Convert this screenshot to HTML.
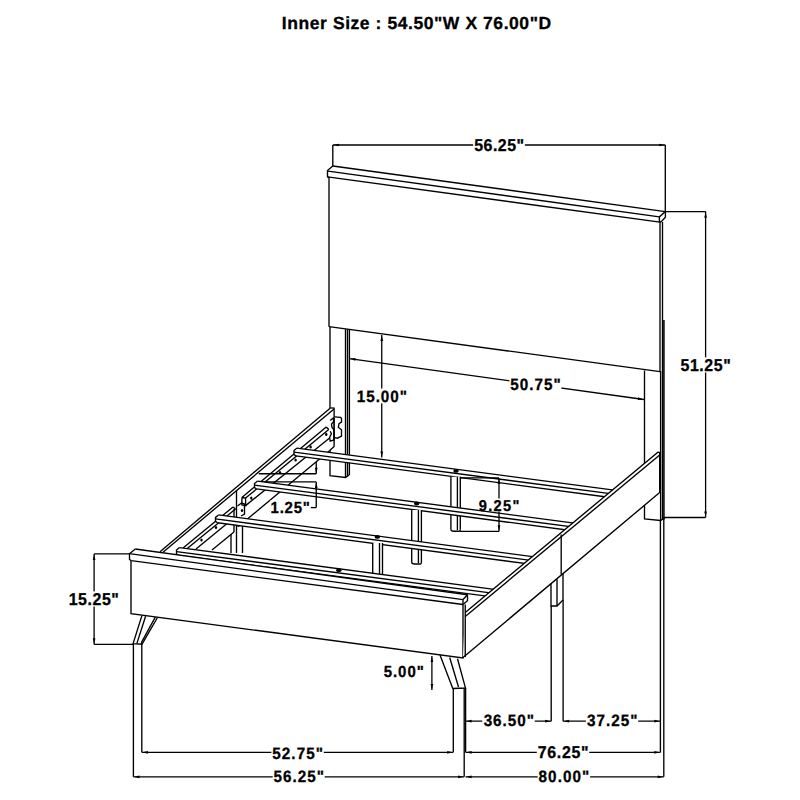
<!DOCTYPE html>
<html><head><meta charset="utf-8"><style>
html,body{margin:0;padding:0;background:#fff;width:800px;height:800px;overflow:hidden}
svg{display:block}
text{font-family:"Liberation Sans",sans-serif;font-weight:bold;fill:#000;stroke:#000;stroke-width:0.3;text-rendering:geometricPrecision}
</style></head><body>
<svg width="800" height="800" viewBox="0 0 800 800">
<g fill="none" stroke="#000" stroke-linejoin="miter" stroke-linecap="butt">
<path d="M332.80,166.00 L665.30,211.60" stroke-width="1.35"/>
<path d="M328.00,171.20 L659.40,216.90" stroke-width="1.35"/>
<path d="M327.50,176.90 L660.00,222.20" stroke-width="1.35"/>
<path d="M332.80,166.00 L327.50,170.60 L327.50,176.90 L329.00,177.50" stroke-width="1.35"/>
<path d="M665.30,211.60 L659.40,216.90 L659.40,222.20" stroke-width="1.35"/>
<path d="M665.40,211.60 L665.40,217.20 L661.20,221.60 L660.00,222.20" stroke-width="1.35"/>
<path d="M329.00,177.20 L329.00,326.80" stroke-width="1.35"/>
<path d="M329.00,326.60 L660.00,371.60" stroke-width="1.35"/>
<path d="M660.00,222.00 L660.00,371.50" stroke-width="1.35"/>
<path d="M662.50,222.00 L662.50,520.00" stroke-width="1.35"/>
<path d="M330.00,327.00 L330.00,475.60 L345.60,477.50 L349.40,474.40 L349.40,329.40" stroke-width="1.35"/>
<path d="M345.50,329.20 L345.50,477.00" stroke-width="1.35"/>
<path d="M347.50,329.40 L347.50,476.50" stroke-width="1.35"/>
<path d="M644.50,370.50 L644.50,519.00 L660.60,520.50 L664.70,517.60" stroke-width="1.35"/>
<path d="M660.60,371.00 L660.60,520.50" stroke-width="1.35"/>
<rect x="662.5" y="320" width="2.3" height="200" fill="#000" stroke="none" opacity="0.85"/>
<path d="M349.40,358.60 L644.00,399.50" stroke-width="1.3"/>
<path d="M349.99,358.68 L355.63,358.10 L355.26,360.78 Z" fill="#000" stroke="none"/>
<path d="M643.41,399.42 L637.77,400.00 L638.14,397.32 Z" fill="#000" stroke="none"/>
<rect x="509.40" y="377.00" width="52.00" height="14.80" fill="#fff" stroke="none"/>
<text class="dim" transform="translate(510.29,390.00) scale(0.93,1)" x="0" y="0" font-size="16.41" textLength="54.20" lengthAdjust="spacing">50.75"</text>
<path d="M381.75,335.00 L381.75,457.50" stroke-width="1.3"/>
<path d="M381.75,335.60 L383.10,341.10 L380.40,341.10 Z" fill="#000" stroke="none"/>
<path d="M381.75,456.90 L380.40,451.40 L383.10,451.40 Z" fill="#000" stroke="none"/>
<rect x="356.40" y="388.50" width="51.30" height="14.90" fill="#fff" stroke="none"/>
<text class="dim" transform="translate(356.78,401.75) scale(0.93,1)" x="0" y="0" font-size="16.41" textLength="53.94" lengthAdjust="spacing">15.00"</text>
<path d="M330.40,407.90 L334.10,408.20 L334.10,446.50 L329.50,450.80 L245.00,521.00 L160.00,551.80 Z" fill="#fff" stroke="none"/>
<path d="M330.40,407.90 L160.00,551.80" stroke-width="1.35"/>
<path d="M334.00,409.00 L163.00,552.20" stroke-width="1.35"/>
<path d="M330.40,407.90 L334.10,408.20 L334.10,446.50 L329.50,450.80" stroke-width="1.35"/>
<path d="M329.50,450.80 L245.00,521.00" stroke-width="1.35"/>
<path d="M326.25,426.90 L241.90,497.50" stroke-width="1.35"/>
<path d="M328.75,429.40 L245.60,498.10" stroke-width="1.35"/>
<path d="M329.60,438.00 L245.60,505.60" stroke-width="1.35"/>
<path d="M326.25,426.90 L328.75,429.40" stroke-width="1.35"/>
<path d="M241.90,497.50 L245.60,498.10 L245.60,505.60 L241.90,505.00 L241.90,497.50" stroke-width="1.35"/>
<path d="M236.50,490.00 L236.50,553.00" stroke-width="1.35"/>
<path d="M237.50,506.00 L241.50,503.00 L244.50,504.00 L244.50,514.00 L241.00,516.00" stroke-width="1.35"/>
<path d="M233.00,507.00 L183.00,548.00" stroke-width="1.35"/>
<path d="M235.50,509.00 L186.00,549.50" stroke-width="1.35"/>
<path d="M235.00,517.00 L196.00,549.00" stroke-width="1.35"/>
<path d="M233.00,507.00 L235.50,509.00" stroke-width="1.35"/>
<path d="M234.00,509.00 L234.00,532.00" stroke-width="1.35"/>
<path d="M234.00,532.00 L212.00,550.00" stroke-width="1.35"/>
<path d="M231.00,534.00 L231.00,553.00" stroke-width="1.35"/>
<path d="M242.50,524.00 L242.50,553.00" stroke-width="1.35"/>
<ellipse cx="326.25" cy="434.4" rx="1.2" ry="1.6" fill="#000" stroke="none"/>
<ellipse cx="310.6" cy="446.9" rx="1.2" ry="1.6" fill="#000" stroke="none"/>
<ellipse cx="295.6" cy="460" rx="1.2" ry="1.6" fill="#000" stroke="none"/>
<ellipse cx="280" cy="472.5" rx="1.2" ry="1.6" fill="#000" stroke="none"/>
<ellipse cx="251.25" cy="498.1" rx="1.2" ry="1.6" fill="#000" stroke="none"/>
<ellipse cx="242" cy="510.5" rx="1.2" ry="1.6" fill="#000" stroke="none"/>
<ellipse cx="216" cy="527.5" rx="1.2" ry="1.6" fill="#000" stroke="none"/>
<ellipse cx="201.5" cy="540" rx="1.2" ry="1.6" fill="#000" stroke="none"/>
<ellipse cx="238.5" cy="525.5" rx="1.2" ry="1.6" fill="#000" stroke="none"/>
<path d="M334.40,416.90 L341.25,418.00 L341.25,437.00 L334.40,438.00 Z" fill="#fff" stroke="none"/>
<path d="M334.40,416.90 L340.60,417.30 L341.50,418.50 L341.50,422.20 L339.00,423.60 L338.30,427.30 L341.50,429.80 L341.50,436.20 L337.50,438.20 L334.40,437.60" stroke-width="1.35"/>
<path d="M330.20,420.50 L333.10,418.20 L334.00,421.00 L331.50,424.20 L332.00,427.50 L334.00,429.80 L334.00,440.00 L330.20,441.20 L329.60,437.40 L331.40,433.80 L330.20,431.20" stroke-width="1.35"/>
<path d="M334.20,417.50 L334.20,440.00" stroke-width="1.35"/>
<path d="M258.75,473.75 L316.25,473.75" stroke-width="1.35"/>
<path d="M258.00,481.90 L316.25,481.90" stroke-width="1.35"/>
<path d="M294.00,449.05 L297.00,448.05 L616.00,490.42 L616.00,498.22 L296.00,455.85 L294.00,454.55 Z" fill="#fff" stroke="none"/>
<path d="M297.00,448.05 L616.00,490.42" stroke-width="1.35"/>
<path d="M294.00,452.05 L616.00,494.42" stroke-width="1.35"/>
<path d="M296.00,455.85 L616.00,498.22" stroke-width="1.35"/>
<path d="M297.00,448.05 L294.00,450.55 L294.00,454.55 L296.00,455.85" stroke-width="1.35"/>
<ellipse cx="456" cy="470.9" rx="2.7" ry="1.9" fill="#000" stroke="none"/>
<path d="M450.90,476.80 L460.30,476.80 L460.30,531.20 L450.90,531.20 Z" fill="#fff" stroke="none"/>
<path d="M450.90,476.80 L450.90,529.20" stroke-width="1.35"/>
<path d="M460.30,476.80 L460.30,529.20" stroke-width="1.35"/>
<path d="M457.40,476.80 L457.40,530.20" stroke-width="1.35"/>
<path d="M450.9,529.2 Q450.9,531.2 453.9,531.2 L459.3,531.2 Q460.3,531.2 460.3,529.2" stroke-width="1.35"/>
<path d="M254.50,482.09 L257.50,481.09 L578.00,523.66 L578.00,531.46 L256.50,488.89 L254.50,487.59 Z" fill="#fff" stroke="none"/>
<path d="M257.50,481.09 L578.00,523.66" stroke-width="1.35"/>
<path d="M254.50,485.09 L578.00,527.66" stroke-width="1.35"/>
<path d="M256.50,488.89 L578.00,531.46" stroke-width="1.35"/>
<path d="M257.50,481.09 L254.50,483.59 L254.50,487.59 L256.50,488.89" stroke-width="1.35"/>
<ellipse cx="416.7" cy="503.5" rx="2.7" ry="1.9" fill="#000" stroke="none"/>
<path d="M411.70,510.00 L421.40,510.00 L421.40,564.00 L411.70,564.00 Z" fill="#fff" stroke="none"/>
<path d="M411.70,510.00 L411.70,562.00" stroke-width="1.35"/>
<path d="M421.40,510.00 L421.40,562.00" stroke-width="1.35"/>
<path d="M418.40,510.00 L418.40,563.00" stroke-width="1.35"/>
<path d="M411.7,562 Q411.7,564 414.7,564 L420.4,564 Q421.4,564 421.4,562" stroke-width="1.35"/>
<path d="M215.50,515.94 L218.50,514.94 L540.00,557.64 L540.00,565.44 L217.50,522.74 L215.50,521.44 Z" fill="#fff" stroke="none"/>
<path d="M218.50,514.94 L540.00,557.64" stroke-width="1.35"/>
<path d="M215.50,518.94 L540.00,561.64" stroke-width="1.35"/>
<path d="M217.50,522.74 L540.00,565.44" stroke-width="1.35"/>
<path d="M218.50,514.94 L215.50,517.44 L215.50,521.44 L217.50,522.74" stroke-width="1.35"/>
<ellipse cx="377.3" cy="536.9" rx="2.7" ry="1.9" fill="#000" stroke="none"/>
<path d="M372.70,543.00 L382.50,543.00 L382.50,590.00 L372.70,590.00 Z" fill="#fff" stroke="none"/>
<path d="M372.70,543.00 L372.70,588.00" stroke-width="1.35"/>
<path d="M382.50,543.00 L382.50,588.00" stroke-width="1.35"/>
<path d="M379.50,543.00 L379.50,589.00" stroke-width="1.35"/>
<path d="M372.7,588 Q372.7,590 375.7,590 L381.5,590 Q382.5,590 382.5,588" stroke-width="1.35"/>
<path d="M176.50,548.59 L179.50,547.59 L496.00,589.63 L496.00,597.43 L178.50,555.39 L176.50,554.09 Z" fill="#fff" stroke="none"/>
<path d="M179.50,547.59 L496.00,589.63" stroke-width="1.35"/>
<path d="M176.50,551.59 L496.00,593.63" stroke-width="1.35"/>
<path d="M178.50,555.39 L496.00,597.43" stroke-width="1.35"/>
<path d="M179.50,547.59 L176.50,550.09 L176.50,554.09 L178.50,555.39" stroke-width="1.35"/>
<ellipse cx="338.8" cy="570.2" rx="2.7" ry="1.9" fill="#000" stroke="none"/>
<path d="M460.70,477.90 L499.00,477.90" stroke-width="1.35"/>
<path d="M459.60,531.40 L499.00,531.40" stroke-width="1.35"/>
<path d="M499.00,477.90 L499.00,531.40" stroke-width="1.3"/>
<path d="M499.00,478.50 L500.35,484.00 L497.65,484.00 Z" fill="#000" stroke="none"/>
<path d="M499.00,530.80 L497.65,525.30 L500.35,525.30 Z" fill="#000" stroke="none"/>
<rect x="496" y="498.5" width="6" height="13" fill="#fff" stroke="none"/>
<text class="dim" transform="translate(478.67,510.50) scale(0.93,1)" x="0" y="0" font-size="15.71" textLength="43.92" lengthAdjust="spacing">9.25"</text>
<path d="M316.25,462.00 L316.25,473.75" stroke-width="1.35"/>
<path d="M316.25,473.15 L314.90,467.65 L317.60,467.65 Z" fill="#000" stroke="none"/>
<path d="M316.25,481.90 L316.25,507.60" stroke-width="1.35"/>
<path d="M316.25,482.50 L317.60,488.00 L314.90,488.00 Z" fill="#000" stroke="none"/>
<path d="M316.25,507.60 L310.00,507.60" stroke-width="1.35"/>
<rect x="269.90" y="500.60" width="40.85" height="14.65" fill="#fff" stroke="none"/>
<text class="dim" transform="translate(270.54,513.35) scale(0.93,1)" x="0" y="0" font-size="16.07" textLength="42.35" lengthAdjust="spacing">1.25"</text>
<path d="M135.25,549.00 L467.50,594.75 L467.50,600.75 L463.00,604.50 L463.00,658.00 L131.00,613.60 L129.50,559.50 L129.50,553.70 Z" fill="#fff" stroke="none"/>
<path d="M135.25,549.00 L467.50,594.75" stroke-width="1.35"/>
<path d="M129.50,553.70 L463.00,599.60" stroke-width="1.35"/>
<path d="M131.20,560.60 L463.00,604.50" stroke-width="1.35"/>
<path d="M135.25,549.00 L129.50,553.70 L129.50,559.50 L131.20,560.60" stroke-width="1.35"/>
<path d="M467.50,594.75 L467.50,600.75 L463.00,604.50" stroke-width="1.35"/>
<path d="M467.50,594.75 L463.00,599.60 L463.00,604.50" stroke-width="1.35"/>
<path d="M131.00,561.00 L131.00,613.60 L463.00,658.00 L463.00,604.50" stroke-width="1.35"/>
<path d="M141.90,615.60 L133.10,643.60 L142.00,644.20 L157.50,617.50" stroke-width="1.35"/>
<path d="M145.60,616.20 L136.90,643.40" stroke-width="1.35"/>
<path d="M155.30,617.20 L141.20,642.80" stroke-width="1.35"/>
<path d="M440.00,655.00 L452.80,688.50 L465.50,688.00 L457.50,658.70" stroke-width="1.35"/>
<path d="M449.70,657.50 L458.50,687.00" stroke-width="1.35"/>
<path d="M465.25,612.40 L657.90,452.20 L659.70,452.60 L659.70,492.50 L463.00,657.50 L465.25,604.50 Z" fill="#fff" stroke="none"/>
<path d="M465.25,604.50 L465.25,657.00" stroke-width="1.35"/>
<path d="M465.25,612.40 L657.90,452.20 L659.70,452.60 L659.70,492.50 L463.00,657.50" stroke-width="1.35"/>
<path d="M465.25,616.50 L659.70,455.00" stroke-width="1.35"/>
<path d="M561.20,534.50 L561.20,574.50" stroke-width="1.35"/>
<path d="M551.00,583.80 L551.00,606.00 L557.00,606.00 L563.00,600.00" stroke-width="1.35"/>
<path d="M557.00,579.00 L557.00,606.00" stroke-width="1.35"/>
<path d="M563.00,573.80 L563.00,600.00" stroke-width="1.35"/>
<path d="M332.80,145.00 L332.80,166.00" stroke-width="1.35"/>
<path d="M665.30,145.00 L665.30,211.60" stroke-width="1.35"/>
<path d="M332.80,145.00 L665.30,145.00" stroke-width="1.3"/>
<path d="M333.40,145.00 L338.90,143.65 L338.90,146.35 Z" fill="#000" stroke="none"/>
<path d="M664.70,145.00 L659.20,146.35 L659.20,143.65 Z" fill="#000" stroke="none"/>
<rect x="473.10" y="137.00" width="51.80" height="15.25" fill="#fff" stroke="none"/>
<text class="dim" transform="translate(474.21,150.50) scale(0.93,1)" x="0" y="0" font-size="17.11" textLength="53.71" lengthAdjust="spacing">56.25"</text>
<path d="M665.30,211.60 L705.60,211.60" stroke-width="1.35"/>
<path d="M664.00,517.50 L705.60,517.50" stroke-width="1.35"/>
<path d="M705.60,211.60 L705.60,517.50" stroke-width="1.3"/>
<path d="M705.60,212.20 L706.95,217.70 L704.25,217.70 Z" fill="#000" stroke="none"/>
<path d="M705.60,516.90 L704.25,511.40 L706.95,511.40 Z" fill="#000" stroke="none"/>
<rect x="679.40" y="357.25" width="52.10" height="15.25" fill="#fff" stroke="none"/>
<text class="dim" transform="translate(680.51,370.75) scale(0.93,1)" x="0" y="0" font-size="17.11" textLength="53.98" lengthAdjust="spacing">51.25"</text>
<path d="M94.10,553.90 L129.00,553.90" stroke-width="1.35"/>
<path d="M94.10,644.40 L133.00,644.40" stroke-width="1.35"/>
<path d="M94.10,553.90 L94.10,644.40" stroke-width="1.3"/>
<path d="M94.10,554.50 L95.45,560.00 L92.75,560.00 Z" fill="#000" stroke="none"/>
<path d="M94.10,643.80 L92.75,638.30 L95.45,638.30 Z" fill="#000" stroke="none"/>
<rect x="68.10" y="591.40" width="51.60" height="15.20" fill="#fff" stroke="none"/>
<text class="dim" transform="translate(68.72,604.65) scale(0.93,1)" x="0" y="0" font-size="17.11" textLength="53.97" lengthAdjust="spacing">15.25"</text>
<path d="M431.90,656.00 L431.90,690.00" stroke-width="1.3"/>
<path d="M431.90,656.60 L433.25,662.10 L430.55,662.10 Z" fill="#000" stroke="none"/>
<path d="M431.90,689.40 L430.55,683.90 L433.25,683.90 Z" fill="#000" stroke="none"/>
<rect x="382.50" y="664.10" width="42.00" height="14.65" fill="#fff" stroke="none"/>
<text class="dim" transform="translate(383.64,676.85) scale(0.93,1)" x="0" y="0" font-size="16.07" textLength="43.16" lengthAdjust="spacing">5.00"</text>
<path d="M133.40,644.00 L133.40,776.80" stroke-width="1.35"/>
<path d="M141.80,643.00 L141.80,752.30" stroke-width="1.35"/>
<path d="M453.30,688.50 L453.30,752.30" stroke-width="1.35"/>
<path d="M464.20,688.00 L464.20,776.80" stroke-width="1.35"/>
<path d="M465.60,688.00 L465.60,752.30" stroke-width="1.35"/>
<path d="M551.20,606.00 L551.20,721.20" stroke-width="1.35"/>
<path d="M563.10,600.00 L563.10,721.20" stroke-width="1.35"/>
<path d="M660.40,520.50 L660.40,752.30" stroke-width="1.35"/>
<path d="M663.80,520.00 L663.80,776.80" stroke-width="1.35"/>
<path d="M141.80,752.30 L453.30,752.30" stroke-width="1.3"/>
<path d="M142.40,752.30 L147.90,750.95 L147.90,753.65 Z" fill="#000" stroke="none"/>
<path d="M452.70,752.30 L447.20,753.65 L447.20,750.95 Z" fill="#000" stroke="none"/>
<rect x="271.40" y="745.50" width="52.40" height="14.80" fill="#fff" stroke="none"/>
<text class="dim" transform="translate(272.29,758.50) scale(0.93,1)" x="0" y="0" font-size="16.41" textLength="54.47" lengthAdjust="spacing">52.75"</text>
<path d="M133.40,776.80 L464.20,776.80" stroke-width="1.3"/>
<path d="M134.00,776.80 L139.50,775.45 L139.50,778.15 Z" fill="#000" stroke="none"/>
<path d="M463.60,776.80 L458.10,778.15 L458.10,775.45 Z" fill="#000" stroke="none"/>
<rect x="272.70" y="769.10" width="52.00" height="14.80" fill="#fff" stroke="none"/>
<text class="dim" transform="translate(273.59,782.10) scale(0.93,1)" x="0" y="0" font-size="16.41" textLength="54.20" lengthAdjust="spacing">56.25"</text>
<path d="M465.50,721.20 L551.20,721.20" stroke-width="1.3"/>
<path d="M466.10,721.20 L471.60,719.85 L471.60,722.55 Z" fill="#000" stroke="none"/>
<path d="M550.60,721.20 L545.10,722.55 L545.10,719.85 Z" fill="#000" stroke="none"/>
<rect x="482.25" y="713.30" width="52.45" height="14.80" fill="#fff" stroke="none"/>
<text class="dim" transform="translate(483.64,726.30) scale(0.93,1)" x="0" y="0" font-size="16.41" textLength="54.20" lengthAdjust="spacing">36.50"</text>
<path d="M563.10,721.20 L660.40,721.20" stroke-width="1.3"/>
<path d="M563.70,721.20 L569.20,719.85 L569.20,722.55 Z" fill="#000" stroke="none"/>
<path d="M659.80,721.20 L654.30,722.55 L654.30,719.85 Z" fill="#000" stroke="none"/>
<rect x="585.90" y="713.30" width="52.30" height="14.80" fill="#fff" stroke="none"/>
<text class="dim" transform="translate(587.04,726.30) scale(0.93,1)" x="0" y="0" font-size="16.41" textLength="54.20" lengthAdjust="spacing">37.25"</text>
<path d="M465.50,752.30 L660.40,752.30" stroke-width="1.3"/>
<path d="M466.10,752.30 L471.60,750.95 L471.60,753.65 Z" fill="#000" stroke="none"/>
<path d="M659.80,752.30 L654.30,753.65 L654.30,750.95 Z" fill="#000" stroke="none"/>
<rect x="536.80" y="745.10" width="52.40" height="15.20" fill="#fff" stroke="none"/>
<text class="dim" transform="translate(537.67,758.35) scale(0.93,1)" x="0" y="0" font-size="17.11" textLength="54.78" lengthAdjust="spacing">76.25"</text>
<path d="M465.50,776.80 L663.80,776.80" stroke-width="1.3"/>
<path d="M466.10,776.80 L471.60,775.45 L471.60,778.15 Z" fill="#000" stroke="none"/>
<path d="M663.20,776.80 L657.70,778.15 L657.70,775.45 Z" fill="#000" stroke="none"/>
<rect x="537.70" y="769.10" width="52.40" height="14.80" fill="#fff" stroke="none"/>
<text class="dim" transform="translate(538.59,782.10) scale(0.93,1)" x="0" y="0" font-size="16.41" textLength="54.47" lengthAdjust="spacing">80.00"</text>
<text class="dim" transform="translate(281.87,29.25) scale(1.0,1)" x="0" y="0" font-size="17.50" textLength="269.29" lengthAdjust="spacing">Inner Size : 54.50"W X 76.00"D</text>
</g>
</svg>
</body></html>
